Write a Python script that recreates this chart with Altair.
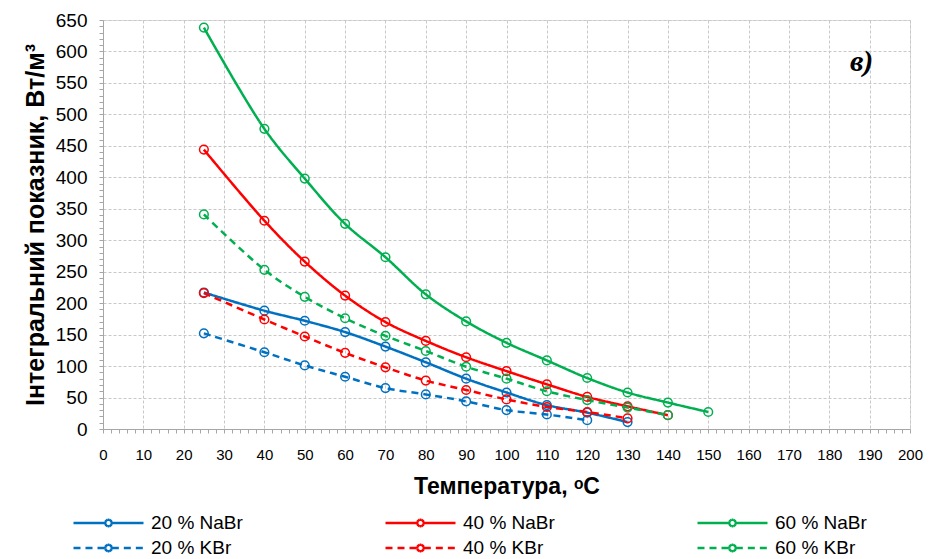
import math
import altair as alt
import pandas as pd

# ---------------- data ----------------
t_nabr20 = [25, 40, 50, 60, 70, 80, 90, 100, 110, 120, 130]
v_nabr20 = [217, 188, 172, 154, 131, 106, 80, 58, 38, 26, 11]

t_kbr20 = [25, 40, 50, 60, 70, 80, 90, 100, 110, 120]
v_kbr20 = [152, 122, 101, 83, 65, 55, 44, 30, 23, 14]

t_nabr40 = [25, 40, 50, 60, 70, 80, 90, 100, 110, 120, 130, 140]
v_nabr40 = [444, 331, 266, 212, 170, 140, 114, 92, 71, 51, 36, 22]

t_kbr40 = [25, 40, 50, 60, 70, 80, 90, 100, 110, 120, 130]
v_kbr40 = [216, 174, 147, 121, 98, 77, 62, 47, 35, 27, 17]

t_nabr60 = [25, 40, 50, 60, 70, 80, 90, 100, 110, 120, 130, 140, 150]
v_nabr60 = [638, 477, 398, 326, 273, 214, 171, 137, 109, 81, 58, 42, 27]

t_kbr60 = [25, 40, 50, 60, 70, 80, 90, 100, 110, 120, 130, 140]
v_kbr60 = [341, 253, 210, 176, 148, 124, 99, 80, 60, 46, 34, 22]

series_names = ["20 % NaBr", "40 % NaBr", "60 % NaBr", "20 % KBr", "40 % KBr", "60 % KBr"]
series_colors = ["#0070C0", "#FF0000", "#00B050", "#0070C0", "#FF0000", "#00B050"]

x_ticks = list(range(0, 201, 2))
y_ticks = list(range(0, 651, 10))

x_title = "Температура, ᵒC"
y_title = "Інтегральний показник, Вт/м³"
panel_label = "в)"
panel_x = [188]
panel_y = [583]

# ---------------- build table ----------------
rows = []
for name, ts, vs in [
    ("20 % NaBr", t_nabr20, v_nabr20),
    ("40 % NaBr", t_nabr40, v_nabr40),
    ("60 % NaBr", t_nabr60, v_nabr60),
    ("20 % KBr", t_kbr20, v_kbr20),
    ("40 % KBr", t_kbr40, v_kbr40),
    ("60 % KBr", t_kbr60, v_kbr60),
]:
    for t, v in zip(ts, vs):
        rows.append({"series": name, "T": t, "V": v})
df = pd.DataFrame(rows)

# legend symbol: line with small circle in the middle (circle made of short
# subpaths so the dash pattern doesn't break it)
r = 0.095
n = 14
parts = [f"M-1,0L{-r:.3f},0", f"M{r:.3f},0L1,0"]
for i in range(n):
    a0 = 2 * math.pi * i / n
    a1 = 2 * math.pi * (i + 1) / n
    parts.append(
        f"M{r*math.cos(a0):.4f},{r*math.sin(a0):.4f}L{r*math.cos(a1):.4f},{r*math.sin(a1):.4f}"
    )
symbol_path = "".join(parts)

FONT = "Liberation Sans"

color_scale = alt.Scale(domain=series_names, range=series_colors)
dash_scale = alt.Scale(
    domain=series_names,
    range=[[1, 0], [1, 0], [1, 0], [7, 5], [7, 5], [7, 5]],
)

x_enc = alt.X(
    "T:Q",
    scale=alt.Scale(domain=[0, 200], nice=False),
    axis=alt.Axis(
        title=x_title,
        values=x_ticks,
        tickCount=500,
        format="d",
        labelExpr="datum.value % 10 === 0 ? datum.label : ''",
        labelOverlap=False,
        labelFlush=False,
        labelFont=FONT,
        labelFontSize=15,
        labelColor="black",
        labelPadding=14,
        titleFont=FONT,
        titleFontSize=23,
        titleFontWeight="bold",
        titleColor="black",
        titlePadding=13,
        tickSize=4,
        tickColor="#A6A6A6",
        domainColor="#A6A6A6",
        gridColor="#C8C8C8",
        gridDash=[3, 2],
        gridOpacity={"condition": {"test": "datum.value % 10 === 0 && datum.value > 0", "value": 1}, "value": 0},
    ),
)
y_enc = alt.Y(
    "V:Q",
    scale=alt.Scale(domain=[0, 650], nice=False),
    axis=alt.Axis(
        title=y_title,
        values=y_ticks,
        tickCount=500,
        format="d",
        labelExpr="datum.value % 50 === 0 ? datum.label : ''",
        labelOverlap=False,
        labelFlush=False,
        labelFont=FONT,
        labelFontSize=19,
        labelColor="black",
        labelPadding=12,
        titleFont=FONT,
        titleFontSize=25,
        titleFontWeight="bold",
        titleColor="black",
        titlePadding=7,
        tickSize=4,
        tickColor="#A6A6A6",
        domainColor="#A6A6A6",
        gridColor="#C8C8C8",
        gridDash=[3, 2],
        gridOpacity={"condition": {"test": "datum.value % 50 === 0 && datum.value > 0", "value": 1}, "value": 0},
    ),
)

legend = alt.Legend(
    title=None,
    orient="none",
    direction="horizontal",
    legendX=-31,
    legendY=492,
    columns=3,
    columnPadding=141,
    rowPadding=3,
    gridAlign="all",
    symbolType=symbol_path,
    symbolSize=4900,
    symbolStrokeWidth=2.5,
    symbolFillColor="transparent",
    clipHeight=22,
    labelFont=FONT,
    labelFontSize=19,
    labelColor="black",
    labelOffset=6,
)

lines = alt.Chart(df).mark_line(interpolate="catmull-rom", strokeWidth=2.5).encode(
    x=x_enc,
    y=y_enc,
    color=alt.Color("series:N", scale=color_scale, sort=series_names, legend=legend),
    strokeDash=alt.StrokeDash("series:N", scale=dash_scale, sort=series_names, legend=legend),
    order=alt.Order("T:Q"),
)

points = alt.Chart(df).mark_point(filled=False, size=75, strokeWidth=1.5, opacity=1).encode(
    x="T:Q",
    y="V:Q",
    color=alt.Color("series:N", scale=color_scale, sort=series_names, legend=None),
)

label_df = pd.DataFrame({"x": panel_x, "y": panel_y, "text": [panel_label]})
panel = alt.Chart(label_df).mark_text(
    font="Liberation Serif",
    fontSize=30,
    fontStyle="italic",
    fontWeight="bold",
    align="center",
    baseline="middle",
    color="black",
).encode(x="x:Q", y="y:Q", text="text:N")

chart = (
    alt.layer(lines, points, panel)
    .properties(
        width=807,
        height=409,
        autosize=alt.AutoSizeParams(type="none"),
        padding={"left": 103, "top": 20, "right": 25, "bottom": 130},
    )
    .configure_view(stroke=None)
    .configure(background="white")
)

chart.save("out.html", embed_options={"renderer": "svg", "actions": False})
